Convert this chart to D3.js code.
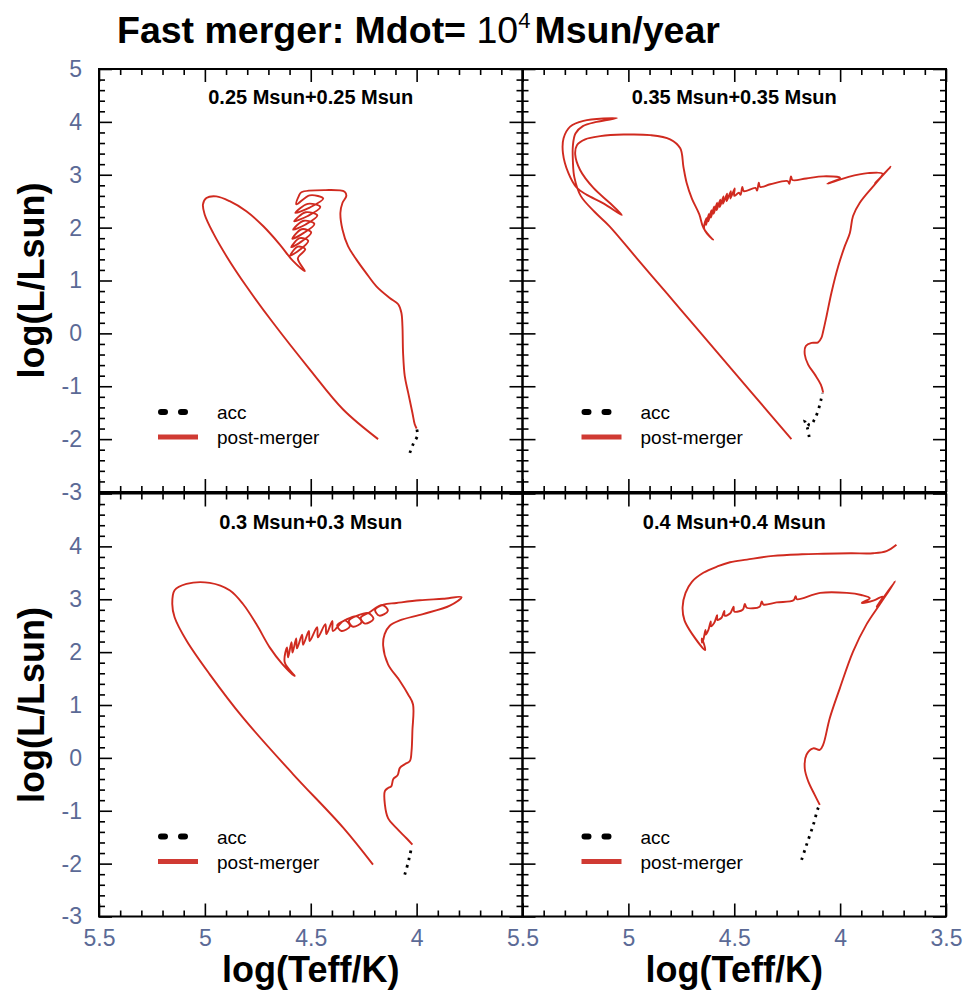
<!DOCTYPE html>
<html>
<head>
<meta charset="utf-8">
<script src="https://cdn.jsdelivr.net/npm/d3@7"></script>
<style>
  body { margin: 0; background: #fff; }
  svg { display: block; }
</style>
</head>
<body>
<div id="chart"></div>
<script>

// ---- data (log Teff, log L) ----
var panelTitles = ['0.25 Msun+0.25 Msun', '0.35 Msun+0.35 Msun', '0.3 Msun+0.3 Msun', '0.4 Msun+0.4 Msun'];
var legendLabels = ['acc', 'post-merger'];

var acc025 = [[4.032,-2.26],[4.015,-2.08],[3.996,-1.93],[4.000,-1.80]];
var post025 = [[4.000,-1.80],[4.009,-1.72],[4.020,-1.50],[4.040,-1.12],[4.056,-0.81],[4.064,-0.37],[4.067,0.14],
  [4.072,0.39],[4.087,0.55],[4.127,0.67],[4.190,0.89],[4.240,1.15],[4.285,1.40],[4.324,1.65],[4.350,1.96],
  [4.360,2.28],[4.350,2.47],[4.332,2.60],[4.340,2.68],[4.430,2.71],[4.544,2.67],[4.556,2.60],
  // shell-flash coil
  [4.568,2.44],[4.505,2.61],[4.441,2.55],[4.505,2.38],
  [4.573,2.28],[4.514,2.45],[4.455,2.39],[4.514,2.22],
  [4.578,2.12],[4.524,2.29],[4.469,2.23],[4.524,2.06],
  [4.583,1.96],[4.533,2.13],[4.483,2.07],[4.533,1.90],
  [4.587,1.79],[4.543,1.97],[4.498,1.91],[4.543,1.74],
  [4.592,1.63],[4.552,1.80],[4.512,1.75],[4.552,1.58],
  [4.597,1.47],[4.561,1.64],[4.526,1.59],[4.561,1.42],
  [4.528,1.18],[4.584,1.37],[4.646,1.68],[4.725,2.03],[4.804,2.31],[4.883,2.50],[4.946,2.59],[4.993,2.56],
  [5.009,2.44],[5.001,2.25],[4.961,1.90],[4.898,1.46],[4.804,0.89],[4.678,0.20],[4.505,-0.68],[4.347,-1.44],
  [4.182,-2.00]];

var acc035 = [[4.146,-1.96],[4.155,-1.78],[4.168,-1.64],[4.142,-1.74],[4.120,-1.62],[4.103,-1.45],[4.090,-1.25],[4.083,-1.13]];
var post035 = [[4.080,-1.12],[4.091,-0.97],[4.119,-0.78],[4.151,-0.59],[4.167,-0.40],[4.162,-0.24],[4.135,-0.18],
  [4.104,-0.17],[4.088,-0.08],[4.080,0.04],[4.064,0.33],[4.041,0.77],[4.009,1.27],[3.978,1.65],[3.954,1.90],
  [3.939,2.22],[3.907,2.47],[3.844,2.78],[3.797,3.00],[3.761,3.15],
  [3.835,2.84],[3.800,3.02],[3.870,3.03],[3.960,2.96],[4.060,2.83],[4.000,2.94],[4.080,2.97],[4.160,2.93],
  [4.225,2.90],[4.232,2.97],[4.240,2.83],[4.248,2.88],[4.330,2.82],
  [4.378,2.77],[4.384,2.85],[4.392,2.70],[4.400,2.75],
  [4.455,2.69],[4.462,2.77],[4.470,2.62],[4.478,2.66],
  [4.500,2.60],[4.498,2.74],[4.518,2.55],[4.516,2.69],[4.536,2.50],[4.534,2.64],[4.553,2.45],[4.551,2.59],
  [4.568,2.39],[4.566,2.53],[4.583,2.33],[4.581,2.47],[4.597,2.26],[4.595,2.40],[4.610,2.19],[4.608,2.33],
  [4.622,2.12],[4.620,2.26],[4.633,2.05],[4.631,2.18],[4.642,1.98],[4.600,1.77],
  [4.645,1.99],[4.665,2.25],[4.700,2.55],[4.725,2.85],[4.740,3.15],[4.755,3.50],[4.803,3.67],[4.897,3.75],
  [5.023,3.76],[5.133,3.73],[5.204,3.67],[5.243,3.56],[5.251,3.38],[5.228,3.09],[5.165,2.75],[5.086,2.46],
  [5.031,2.24],[5.118,2.46],[5.196,2.62],[5.243,2.75],[5.283,3.03],[5.309,3.41],[5.306,3.69],[5.275,3.91],
  [5.212,4.02],[5.054,4.07],[5.150,4.00],[5.215,3.92],[5.250,3.78],[5.262,3.55],[5.262,3.25],[5.255,2.95],
  [5.225,2.60],[5.160,2.30],[5.090,2.03],[4.956,1.40],[4.821,0.77],[4.687,0.14],[4.552,-0.49],[4.418,-1.12],
  [4.230,-2.00]];

var acc030 = [[4.056,-2.21],[4.040,-1.98],[4.032,-1.84],[4.022,-1.66]];
var post030 = [[4.020,-1.64],[4.048,-1.52],[4.095,-1.33],[4.135,-1.14],[4.150,-0.88],[4.150,-0.63],[4.135,-0.57],
  [4.120,-0.54],[4.110,-0.40],[4.090,-0.33],[4.079,-0.19],[4.056,-0.12],[4.032,-0.06],[4.024,0.13],[4.020,0.51],
  [4.017,1.01],[4.040,1.20],[4.080,1.46],[4.135,1.77],[4.158,2.12],[4.151,2.34],[4.127,2.50],[4.080,2.60],
  [3.970,2.72],[3.843,2.88],[3.788,3.04],[3.875,3.01],[3.985,2.98],[4.095,2.93],
  // flash loops
  [4.156,2.90],[4.196,2.80],[4.176,2.69],[4.136,2.78],[4.161,2.89],
  [4.224,2.75],[4.264,2.65],[4.244,2.54],[4.204,2.63],[4.229,2.74],
  [4.280,2.69],[4.320,2.59],[4.300,2.48],[4.260,2.57],[4.285,2.68],
  [4.335,2.61],[4.375,2.51],[4.355,2.40],[4.315,2.49],[4.340,2.60],
  [4.395,2.40],[4.398,2.59],[4.426,2.34],[4.431,2.53],[4.466,2.28],[4.470,2.47],[4.505,2.21],[4.509,2.40],
  [4.536,2.14],[4.541,2.33],[4.565,2.07],[4.569,2.26],[4.586,1.99],[4.591,2.19],[4.607,1.90],[4.612,2.09],
  [4.623,1.81],[4.576,1.55],[4.635,1.78],[4.694,2.09],[4.757,2.53],[4.820,2.91],[4.883,3.17],[4.977,3.31],
  [5.087,3.29],[5.143,3.17],[5.154,2.91],[5.143,2.66],[5.087,2.22],[4.977,1.58],[4.820,0.76],[4.583,-0.31],
  [4.347,-1.32],[4.206,-2.02]];

var acc040 = [[4.182,-1.93],[4.159,-1.65],[4.127,-1.27],[4.104,-0.95],[4.096,-0.89]];
var post040 = [[4.096,-0.89],[4.120,-0.70],[4.150,-0.45],[4.167,-0.20],[4.159,0.06],[4.127,0.18],[4.096,0.15],
  [4.080,0.25],[4.049,0.75],[4.001,1.32],[3.939,2.01],[3.876,2.52],[3.813,2.90],[3.740,3.34],
  [3.827,2.86],[3.800,3.05],[3.840,2.98],[3.898,2.93],[3.860,3.02],[3.900,3.08],[3.968,3.12],[4.094,3.12],
  [4.204,3.00],[4.210,3.06],[4.220,2.98],[4.300,2.94],[4.362,2.90],[4.370,2.96],[4.380,2.86],[4.441,2.84],
  [4.450,2.91],[4.460,2.80],[4.500,2.77],[4.503,2.86],[4.520,2.73],[4.545,2.69],[4.547,2.78],[4.560,2.65],
  [4.580,2.61],[4.581,2.70],[4.595,2.55],[4.610,2.49],[4.611,2.58],[4.622,2.42],[4.635,2.33],[4.636,2.42],
  [4.645,2.25],[4.652,2.18],[4.653,2.26],[4.637,2.04],
  [4.700,2.35],[4.735,2.60],[4.744,2.85],[4.730,3.12],[4.700,3.33],[4.646,3.50],[4.580,3.62],[4.520,3.70],
  [4.440,3.75],[4.316,3.82],[4.180,3.85],[4.080,3.86],[3.950,3.87],[3.844,3.87],[3.781,3.91],[3.734,4.03]];

var xTickValues = [5.5, 5, 4.5, 4, 3.5];
var yTickValues = [5, 4, 3, 2, 1, 0, -1, -2, -3];
var xLabelsLeft = [5.5, 5, 4.5, 4];
var xLabelsRight = [5.5, 5, 4.5, 4, 3.5];
var yLabelsTop = [5, 4, 3, 2, 1, 0, -1, -2, -3];
var yLabelsBottom = [4, 3, 2, 1, 0, -1, -2, -3];

// ---- layout / style ----
var width = 965, height = 999;
var colX = [99, 522.5], colW = 423.5;
var rowY = [69, 493.5], rowH = 423;
var mainFont = '"Liberation Sans", Arial, Helvetica, sans-serif';
var tickFont = '"Liberation Sans Narrow", "Arial Narrow", "Liberation Sans", Arial, sans-serif';
var red = '#d02a1f', tickBlue = '#5b6a96';

var panels = [
  { title: panelTitles[0], acc: acc025, post: post025, col: 0, row: 0 },
  { title: panelTitles[1], acc: acc035, post: post035, col: 1, row: 0 },
  { title: panelTitles[2], acc: acc030, post: post030, col: 0, row: 1 },
  { title: panelTitles[3], acc: acc040, post: post040, col: 1, row: 1 }
];

var svg = d3.select('#chart').append('svg')
  .attr('width', width)
  .attr('height', height);

// title
var title = svg.append('text')
  .attr('x', 117).attr('y', 43)
  .style('font-family', mainFont)
  .style('font-size', '37.5px')
  .attr('fill', 'black');
title.append('tspan').attr('font-weight', 'bold').text('Fast merger: Mdot=');
title.append('tspan').attr('font-weight', 'normal').text(' 10');
title.append('tspan').attr('font-weight', 'normal').style('font-size', '22px').attr('dy', -15).text('4');
title.append('tspan').attr('font-weight', 'bold').attr('dy', 15).attr('dx', 4).text('Msun/year');

var minorX = d3.range(35, 56).map(function(d) { return d / 10; })
  .filter(function(d) { return xTickValues.indexOf(d) < 0; });
var minorY = d3.range(-15, 26).map(function(d) { return d / 5; })
  .filter(function(d) { return yTickValues.indexOf(d) < 0; });

function addAxis(g, gen, values, len, transform, labels, pad) {
  var a = g.append('g')
    .attr('transform', transform)
    .call(gen.tickValues(values).tickSize(-len).tickPadding(pad || 3)
      .tickFormat(function(d) { return labels && labels.indexOf(d) >= 0 ? String(d) : ''; }));
  a.select('.domain').remove();
  a.selectAll('line').attr('stroke', 'black').attr('stroke-width', 1.6);
  a.selectAll('text')
    .attr('fill', tickBlue)
    .style('font-family', tickFont)
    .style('font-size', '23px');
  return a;
}

panels.forEach(function(p) {
  var x0 = colX[p.col], y0 = rowY[p.row];
  var g = svg.append('g').attr('transform', 'translate(' + x0 + ',' + y0 + ')');

  var x = d3.scaleLinear().domain([5.5, 3.5]).range([0, colW]);
  var y = d3.scaleLinear().domain([-3, 5]).range([rowH, 0]);

  var xLab = p.row === 1 ? (p.col === 0 ? xLabelsLeft : xLabelsRight) : null;
  var yLab = p.col === 0 ? (p.row === 0 ? yLabelsTop : yLabelsBottom) : null;

  // inward ticks on all four sides
  addAxis(g, d3.axisBottom(x), xTickValues, 13, 'translate(0,' + rowH + ')', xLab, 13);
  addAxis(g, d3.axisBottom(x), minorX, 6, 'translate(0,' + rowH + ')', null);
  addAxis(g, d3.axisTop(x), xTickValues, 13, 'translate(0,0)', null);
  addAxis(g, d3.axisTop(x), minorX, 6, 'translate(0,0)', null);
  addAxis(g, d3.axisLeft(y), yTickValues, 13, 'translate(0,0)', yLab, 17);
  addAxis(g, d3.axisLeft(y), minorY, 6, 'translate(0,0)', null);
  addAxis(g, d3.axisRight(y), yTickValues, 13, 'translate(' + colW + ',0)', null);
  addAxis(g, d3.axisRight(y), minorY, 6, 'translate(' + colW + ',0)', null);

  g.append('rect')
    .attr('width', colW).attr('height', rowH)
    .attr('fill', 'none').attr('stroke', 'black').attr('stroke-width', 2);

  g.append('text')
    .attr('x', colW / 2).attr('y', 35)
    .attr('text-anchor', 'middle')
    .style('font-family', mainFont).style('font-size', '20px').style('font-weight', 'bold')
    .text(p.title);

  var line = d3.line()
    .x(function(d) { return x(d[0]); })
    .y(function(d) { return y(d[1]); })
    .curve(d3.curveCatmullRom.alpha(0.5));

  g.append('path')
    .attr('d', line(p.post))
    .attr('fill', 'none').attr('stroke', red).attr('stroke-width', 1.9)
    .attr('stroke-linejoin', 'round');

  g.append('path')
    .attr('d', line(p.acc))
    .attr('fill', 'none').attr('stroke', 'black').attr('stroke-width', 2.8)
    .attr('stroke-dasharray', '2.5,5');

  // legend
  var lg = g.append('g').attr('transform', 'translate(59,343)');
  lg.append('path')
    .attr('d', d3.line()([[3, 0], [27, 0]]))
    .attr('stroke', 'black').attr('stroke-width', 6)
    .attr('stroke-linecap', 'round').attr('stroke-dasharray', '4,16');
  lg.append('path')
    .attr('d', d3.line()([[0, 25], [40, 25]]))
    .attr('stroke', '#d03a33').attr('stroke-width', 5);
  lg.selectAll('text.leg').data(legendLabels).enter().append('text')
    .attr('class', 'leg')
    .attr('x', 59).attr('y', function(d, i) { return 7 + i * 25; })
    .style('font-family', mainFont).style('font-size', '19px')
    .text(function(d) { return d; });
});

// axis titles
[0, 1].forEach(function(r) {
  svg.append('text')
    .attr('transform', 'translate(44,' + (rowY[r] + rowH / 2) + ') rotate(-90)')
    .attr('text-anchor', 'middle')
    .style('font-family', mainFont).style('font-size', '36px').style('font-weight', 'bold')
    .text('log(L/Lsun)');
});
[0, 1].forEach(function(c) {
  svg.append('text')
    .attr('x', colX[c] + colW / 2).attr('y', 982)
    .attr('text-anchor', 'middle')
    .style('font-family', mainFont).style('font-size', '36px').style('font-weight', 'bold')
    .text('log(Teff/K)');
});

</script>
</body>
</html>
